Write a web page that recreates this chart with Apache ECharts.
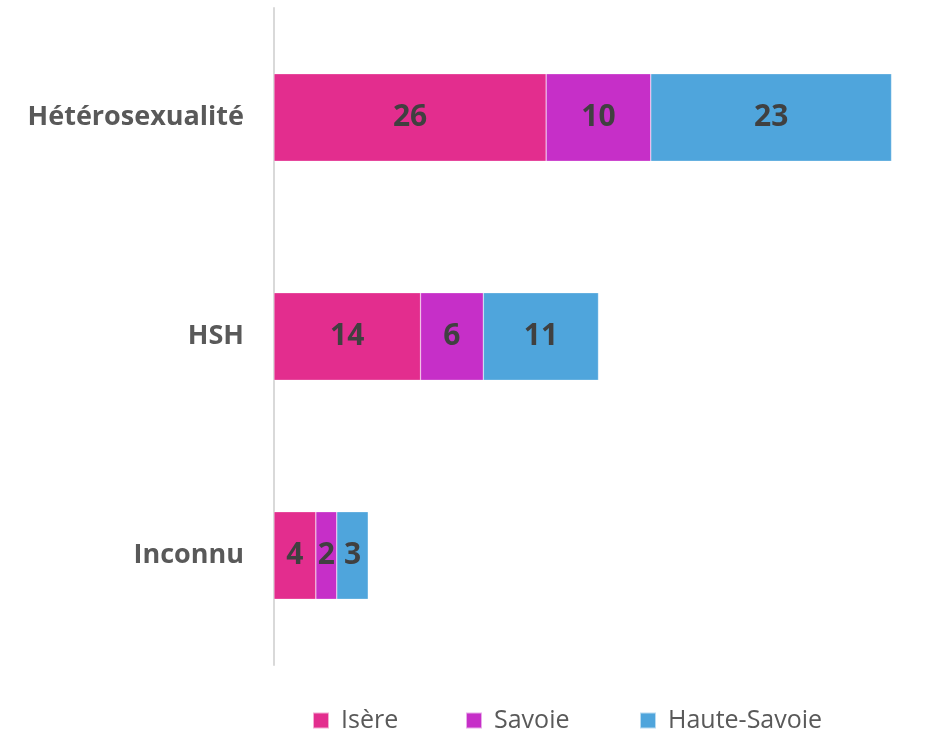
<!DOCTYPE html>
<html>
<head>
<meta charset="utf-8">
<script src="https://cdn.jsdelivr.net/npm/echarts@6/dist/echarts.min.js"></script>
<style>
  html, body { margin: 0; padding: 0; background: #fff; }
  #chart { width: 948px; height: 733px; }
</style>
</head>
<body>
<div id="chart"></div>
<script>
// données
var categories = ["Hétérosexualité", "HSH", "Inconnu"];
var seriesNames = ["Isère", "Savoie", "Haute-Savoie"];
var isere = [26, 14, 4];
var savoie = [10, 6, 2];
var hauteSavoie = [23, 11, 3];

var colors = ["#E32D8E", "#C62FC8", "#4FA5DC"];
var legendLeft = [312, 465, 639];

function makeSerie(name, data, color) {
  return {
    name: name,
    type: "bar",
    stack: "total",
    data: data,
    barCategoryGap: "60%",
    itemStyle: {
      color: color,
      borderColor: "rgba(255,255,255,0.6)",
      borderWidth: 0.5
    },
    label: {
      show: true,
      position: "inside",
      color: "#404040",
      fontFamily: "Open Sans",
      fontWeight: "bold",
      fontSize: 30
    }
  };
}

// une légende par série pour placer chaque entrée comme dans l'original
var legends = seriesNames.map(function(name, i) {
  return {
    top: 708,
    left: legendLeft[i],
    padding: 0,
    itemWidth: 16,
    itemHeight: 16,
    icon: "rect",
    textStyle: {
      color: "#595959",
      fontFamily: "Open Sans",
      fontSize: 25,
      padding: [0, 0, 0, 7]
    },
    data: [name]
  };
});

var myChart = echarts.init(document.getElementById("chart"));
myChart.setOption({
  animation: false,
  color: colors,
  grid: {
    left: 274,
    right: 46,
    top: 8,
    bottom: 68
  },
  legend: legends,
  xAxis: {
    type: "value",
    min: 0,
    max: 60,
    show: false
  },
  yAxis: {
    type: "category",
    inverse: true,
    data: categories,
    axisLine: {
      show: true,
      lineStyle: { color: "#D9D9D9", width: 2 }
    },
    axisTick: { show: false },
    axisLabel: {
      margin: 30,
      color: "#595959",
      fontFamily: "Open Sans",
      fontWeight: "bold",
      fontSize: 27
    }
  },
  series: [
    makeSerie(seriesNames[0], isere, colors[0]),
    makeSerie(seriesNames[1], savoie, colors[1]),
    makeSerie(seriesNames[2], hauteSavoie, colors[2])
  ]
});
</script>
</body>
</html>
